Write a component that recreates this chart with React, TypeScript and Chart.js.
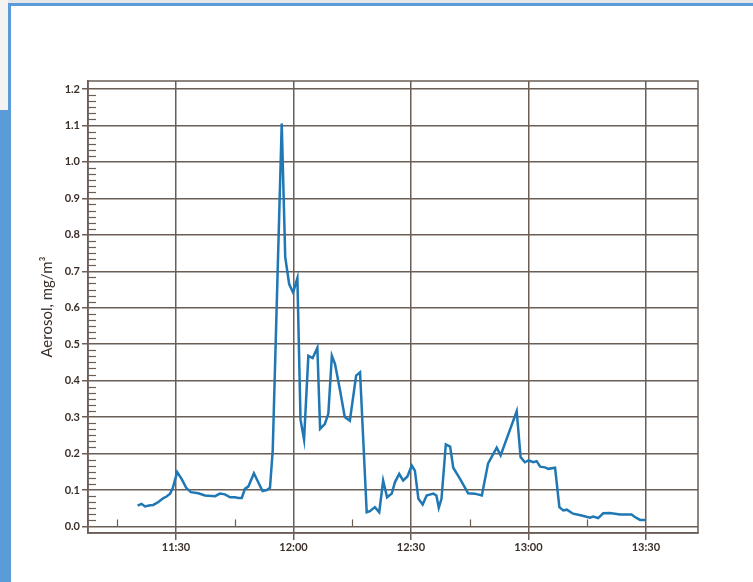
import React, { useEffect, useRef } from "react";
import { Chart, registerables } from "chart.js";

Chart.register(...registerables);

// minutes after 11:00
const timeTicks = [30, 60, 90, 120, 150];
const timeLabels = ["11:30", "12:00", "12:30", "13:00", "13:30"];
const minorTimeTicks = [15, 45, 75, 105, 135];
const yTicks = [0, 0.1, 0.2, 0.3, 0.4, 0.5, 0.6, 0.7, 0.8, 0.9, 1.0, 1.1, 1.2];

const timeMin = [
  20.2, 21.2, 22.1, 23.4, 24.2, 25.5, 26.8, 27.6, 28.5, 29.2,
  30.3, 31.5, 32.6, 33.8, 35.7, 37.4, 40.0, 41.2, 42.5, 43.8,
  45.1, 45.9, 46.8, 47.6, 48.5, 49.9, 51.0, 52.1, 53.2, 54.0,
  54.7, 57.0, 57.9, 58.9, 59.9, 61.0, 61.8, 62.7, 63.8, 64.9,
  66.1, 66.8, 68.0, 68.9, 69.8, 70.6, 71.9, 73.1, 74.4, 76.0,
  77.0, 78.7, 79.5, 80.8, 81.9, 82.9, 83.9, 85.1, 85.9, 87.0,
  88.0, 89.1, 90.2, 91.0, 91.9, 93.0, 94.0, 95.7, 96.5, 97.1,
  97.8, 98.9, 100.0, 100.8, 102.5, 104.6, 106.3, 108.1, 109.7, 111.9,
  112.9, 117.0, 118.0, 119.1, 120.0, 121.3, 122.1, 123.0, 124.2, 125.1,
  126.8, 127.9, 128.9, 129.8, 131.4, 133.6, 135.7, 136.5, 137.8, 139.1,
  140.8, 143.4, 146.3, 147.2, 148.5, 150.0,
];

const aerosol = [
  0.057, 0.062, 0.055, 0.058, 0.059, 0.067, 0.078, 0.082, 0.09, 0.106,
  0.149, 0.129, 0.106, 0.094, 0.091, 0.085, 0.083, 0.09, 0.088, 0.08,
  0.08, 0.078, 0.078, 0.103, 0.11, 0.146, 0.121, 0.097, 0.1, 0.106,
  0.208, 1.105, 0.738, 0.665, 0.642, 0.681, 0.293, 0.238, 0.468, 0.462,
  0.49, 0.268, 0.281, 0.309, 0.468, 0.446, 0.373, 0.3, 0.29, 0.414,
  0.423, 0.039, 0.042, 0.053, 0.039, 0.126, 0.08, 0.09, 0.121, 0.144,
  0.126, 0.137, 0.167, 0.153, 0.076, 0.06, 0.085, 0.09, 0.085, 0.051,
  0.076, 0.225, 0.219, 0.161, 0.131, 0.091, 0.09, 0.085, 0.173, 0.216,
  0.195, 0.316, 0.19, 0.176, 0.181, 0.176, 0.179, 0.164, 0.162, 0.158,
  0.161, 0.053, 0.044, 0.046, 0.035, 0.03, 0.024, 0.027, 0.023, 0.036,
  0.037, 0.033, 0.033, 0.026, 0.018, 0.018,
];

const GRID = "#6a5e56";
const TEXT = "#3b2f29";
const LINE = "#1f77b4";
const BLUE = "#5b9bd8";
const FONT = "Lato, 'Open Sans', sans-serif";

const extras = {
  id: "extras",
  beforeDatasetsDraw(chart: any) {
    const { ctx, chartArea, scales } = chart;
    const { left, right, top, bottom } = chartArea;
    const x = scales.x;
    const y = scales.y;
    ctx.save();
    ctx.strokeStyle = GRID;
    ctx.lineWidth = 1.5;
    ctx.strokeRect(left, top, right - left, bottom - top);
    ctx.lineWidth = 1.2;
    for (let i = 0; i < yTicks.length - 1; i++) {
      for (let j = 1; j < 6; j++) {
        const v = yTicks[i] + (j * 0.1) / 6;
        const py = Math.round(y.getPixelForValue(v)) + 0.5;
        ctx.beginPath();
        ctx.moveTo(left, py);
        ctx.lineTo(left + 8, py);
        ctx.stroke();
      }
    }
    const y0 = y.getPixelForValue(0);
    for (const t of minorTimeTicks) {
      const px = Math.round(x.getPixelForValue(t)) + 0.5;
      ctx.beginPath();
      ctx.moveTo(px, y0);
      ctx.lineTo(px, y0 - 7);
      ctx.stroke();
    }
    ctx.restore();
  },
};

export default function App() {
  const ref = useRef<HTMLCanvasElement>(null);
  useEffect(() => {
    if (!ref.current) return;
    const chart = new Chart(ref.current, {
      type: "line",
      data: {
        datasets: [
          {
            data: timeMin.map((t, i) => ({ x: t, y: aerosol[i] })),
            borderColor: LINE,
            borderWidth: 2.5,
            pointRadius: 0,
            tension: 0,
            fill: false,
          },
        ],
      },
      options: {
        animation: false,
        responsive: false,
        layout: { padding: { top: 81, right: 55, left: 0, bottom: 0 } },
        plugins: { legend: { display: false }, tooltip: { enabled: false } },
        scales: {
          x: {
            type: "linear",
            min: 7.53,
            max: 163.3,
            afterBuildTicks: (s: any) => {
              s.ticks = timeTicks.map((v) => ({ value: v }));
            },
            afterFit: (s: any) => {
              s.height = 49;
            },
            grid: { color: GRID, lineWidth: 1.5, tickLength: 7, tickColor: GRID },
            border: { display: true, color: GRID, width: 1.5 },
            ticks: {
              autoSkip: false,
              maxRotation: 0,
              padding: 1,
              color: TEXT,
              font: { family: FONT, size: 11, weight: "bold" },
              callback: (_v: any, i: number) => timeLabels[i],
            },
          },
          y: {
            type: "linear",
            min: -0.018,
            max: 1.222,
            afterBuildTicks: (s: any) => {
              s.ticks = yTicks.map((v) => ({ value: v }));
            },
            afterFit: (s: any) => {
              s.width = 88;
            },
            grid: { color: GRID, lineWidth: 1.5, tickLength: 6, tickColor: GRID },
            border: { display: true, color: GRID, width: 1.5 },
            ticks: {
              padding: 2,
              color: TEXT,
              font: { family: FONT, size: 11, weight: "bold" },
              callback: (v: any) => Number(v).toFixed(1),
            },
            title: {
              display: true,
              text: "Aerosol, mg/m³",
              color: TEXT,
              font: { family: FONT, size: 15 },
              padding: { top: 38, bottom: 0 },
            },
          },
        },
      } as any,
      plugins: [extras],
    });
    return () => chart.destroy();
  }, []);

  const box = (s: React.CSSProperties) => (
    <div style={{ position: "absolute", ...s }} />
  );

  return (
    <div
      style={{
        position: "fixed",
        left: 0,
        top: 0,
        width: 753,
        height: 582,
        background: "#ffffff",
        overflow: "hidden",
      }}
    >
      <canvas
        ref={ref}
        width={753}
        height={582}
        style={{ position: "absolute", left: 0, top: 0, width: 753, height: 582 }}
      />
      {box({ left: 0, top: 0, width: 753, height: 3, background: "#e4e6e8" })}
      {box({ left: 0, top: 0, width: 8, height: 110, background: "#f3f3f3" })}
      {box({ left: 8, top: 3, width: 745, height: 3, background: BLUE })}
      {box({ left: 8, top: 3, width: 3, height: 579, background: BLUE })}
      {box({ left: 0, top: 110, width: 11, height: 472, background: BLUE })}
    </div>
  );
}
